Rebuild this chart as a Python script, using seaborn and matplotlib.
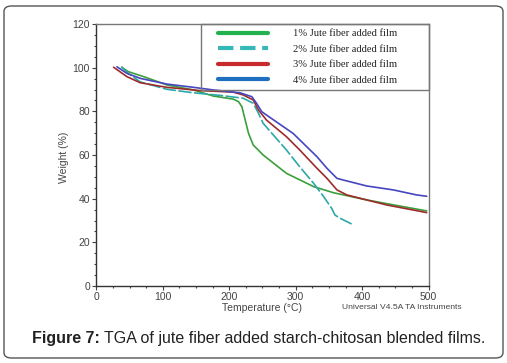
import numpy as np
import pandas as pd
import matplotlib
matplotlib.use("Agg")
import matplotlib.pyplot as plt
import seaborn as sns
from matplotlib.lines import Line2D
from matplotlib.patches import FancyBboxPatch, Rectangle

# ---- data ----
t1 = [38, 48, 71, 106, 146, 176, 206, 214, 219, 224, 229, 236, 251, 286, 327, 357, 407, 457, 497]
w1 = [100.2, 98.2, 95.9, 92.1, 89.8, 87.0, 85.6, 84.4, 82.1, 76.0, 69.9, 64.6, 60.0, 51.6, 45.5, 42.7, 39.4, 36.6, 34.4]

t2 = [38, 48, 66, 106, 146, 186, 221, 236, 244, 251, 286, 306, 327, 342, 354, 359, 367, 384]
w2 = [100.4, 97.4, 93.5, 90.1, 88.5, 87.3, 86.0, 83.7, 79.1, 74.5, 62.3, 54.6, 47.0, 40.9, 35.6, 32.5, 31.0, 28.4]

t3 = [26, 46, 66, 106, 156, 206, 221, 236, 244, 256, 286, 306, 332, 347, 362, 377, 407, 437, 477, 497]
w3 = [100.2, 95.9, 93.1, 91.0, 89.5, 88.8, 87.5, 85.2, 80.6, 76.0, 68.4, 62.3, 53.9, 49.3, 44.0, 41.7, 39.4, 37.1, 34.8, 33.6]

t4 = [31, 46, 66, 106, 146, 176, 216, 234, 241, 249, 256, 296, 332, 347, 362, 372, 407, 447, 482, 497]
w4 = [100.4, 97.4, 95.1, 92.5, 91.0, 89.8, 88.5, 86.7, 83.7, 79.8, 78.3, 69.9, 59.2, 53.9, 49.3, 48.5, 45.8, 44.0, 41.7, 41.1]

labels = ["1% Jute fiber added film", "2% Jute fiber added film",
          "3% Jute fiber added film", "4% Jute fiber added film"]
line_colors = ["#3c9e3c", "#2ba8a8", "#9e2b2b", "#4646c0"]
legend_colors = ["#22b14c", "#35b8b8", "#c9282d", "#1e6fc0"]

frames = []
for t, w, lab in zip([t1, t2, t3, t4], [w1, w2, w3, w4], labels):
    frames.append(pd.DataFrame({"Temperature": t, "Weight": w, "Film": lab}))
df = pd.concat(frames, ignore_index=True)

sns.set_style("white")
plt.rcParams["font.family"] = ["Liberation Sans", "DejaVu Sans"]

W, H = 507, 363
fig = plt.figure(figsize=(W / 100, H / 100), dpi=100)
ax = fig.add_axes([96.3 / W, 1 - 286 / H, 332.4 / W, 262 / H])

sns.lineplot(data=df, x="Temperature", y="Weight", hue="Film", style="Film",
             palette=dict(zip(labels, line_colors)),
             dashes={labels[0]: "", labels[1]: (8, 1.5), labels[2]: "", labels[3]: ""},
             sort=False, estimator=None, linewidth=1.2, ax=ax, legend=False)

ax.set_xlim(0, 500)
ax.set_ylim(0, 120)
ax.set_xticks(np.arange(0, 501, 100))
ax.set_yticks(np.arange(0, 121, 20))
ax.set_xticks(np.arange(0, 501, 25), minor=True)
ax.set_yticks(np.arange(0, 121, 5), minor=True)
ax.tick_params(axis="both", which="major", direction="out", length=3, width=0.8,
               labelsize=7.5, colors="#444444", pad=1.5)
ax.tick_params(axis="both", which="minor", direction="out", length=1.5, width=0.8, colors="#444444")
ax.tick_params(axis="both", which="both", bottom=True, left=True)
for s in ["left", "bottom"]:
    ax.spines[s].set_color("#333333")
    ax.spines[s].set_linewidth(1.0)
for s in ["top", "right"]:
    ax.spines[s].set_color("#777777")
    ax.spines[s].set_linewidth(1.0)

ax.set_xlabel("Temperature (°C)", fontsize=7.5, color="#444444")
ax.set_ylabel("Weight (%)", fontsize=7.5, color="#444444")
ax.xaxis.set_label_coords(0.50, -0.065)
ax.yaxis.set_label_coords(-0.082, 0.49)
ax.text(1.100, -0.067, "Universal V4.5A TA Instruments", transform=ax.transAxes,
        fontsize=6.1, color="#444444", ha="right", va="top")

# legend box
box = Rectangle((0.314, 0.747), 0.686, 0.253, transform=ax.transAxes, fill=False,
                edgecolor="#777777", linewidth=1.0, clip_on=False, zorder=5)
ax.add_patch(box)
handles = [Line2D([], [], color=c, lw=3, ls=("--" if i == 1 else "-"))
           for i, c in enumerate(legend_colors)]
leg = ax.legend(handles, labels, loc="upper left",
                bbox_to_anchor=((218 - 96.3) / 332.4, (286 - 29.0) / 262),
                frameon=False,
                prop={"family": "Liberation Serif", "size": 7.6},
                handlelength=4.75, handletextpad=2.35, labelspacing=0.58,
                borderpad=0.0, borderaxespad=0.0)
for txt in leg.get_texts():
    txt.set_color("#222222")

# rounded outer border
border = FancyBboxPatch((4 / W, 5 / H), 499 / W, 352 / H,
                        boxstyle="round,pad=0,rounding_size=0.015",
                        transform=fig.transFigure, fill=False,
                        edgecolor="#555555", linewidth=1.0)
fig.patches.append(border)

# caption
cy = 1 - 338 / H
t_bold = fig.text(32 / W, cy, "Figure 7:", fontsize=11.5, fontweight="bold",
                  ha="left", va="center", color="#222222")
fig.canvas.draw()
bb = t_bold.get_window_extent()
fig.text((bb.x1 + 4) / W, cy, "TGA of jute fiber added starch-chitosan blended films.",
         fontsize=11.5, ha="left", va="center", color="#222222")

fig.savefig("out.png", dpi=100)
